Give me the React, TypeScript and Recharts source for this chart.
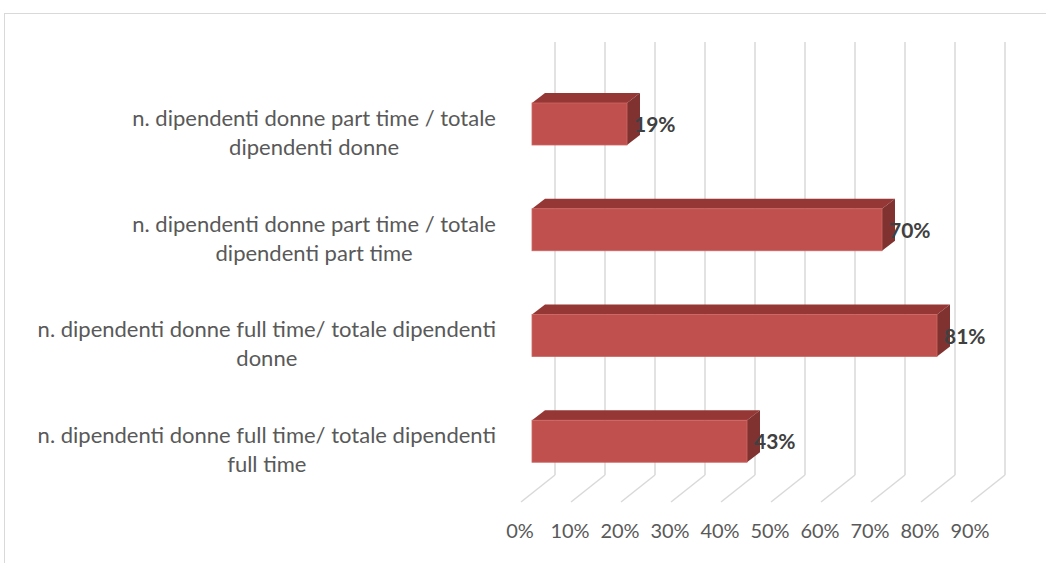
import React from "react";
import { BarChart, Bar, XAxis, YAxis, CartesianGrid, LabelList } from "recharts";

const categoryLines: string[][] = [
  ["n. dipendenti donne part time / totale", "dipendenti donne"],
  ["n. dipendenti donne part time / totale", "dipendenti part time"],
  ["n. dipendenti donne full time/ totale dipendenti", "donne"],
  ["n. dipendenti donne full time/ totale dipendenti", "full time"],
];
const shares = [0.19, 0.7, 0.81, 0.43];
const xTicks = [0, 0.1, 0.2, 0.3, 0.4, 0.5, 0.6, 0.7, 0.8, 0.9];

const data = categoryLines.map((lines, i) => ({ name: lines.join(" "), value: shares[i] }));

const FONT = "Lato, 'Open Sans', sans-serif";
const TEXT = "#595959";
const GRID = "#d9d9d9";
const DX = 13; // depth of the 3d boxes
const DY = 10;

let ctx: CanvasRenderingContext2D | null = null;
function measure(text: string, font: string) {
  if (!ctx) ctx = document.createElement("canvas").getContext("2d");
  if (!ctx) return text.length * 9;
  ctx.font = font;
  return ctx.measureText(text).width;
}

function Bar3D(props: any) {
  const { x, y, width, height } = props;
  const r = x + width;
  return (
    <g>
      <polygon
        points={`${x},${y} ${x + DX},${y - DY} ${r + DX},${y - DY} ${r},${y}`}
        fill="#953735"
      />
      <polygon
        points={`${r},${y} ${r + DX},${y - DY} ${r + DX},${y + height - DY} ${r},${y + height}`}
        fill="#7f3230"
      />
      <rect x={x} y={y} width={width} height={height} fill="#c0504d" stroke="#cd6663" strokeWidth={0.8} />
    </g>
  );
}

// back wall line + floor diagonal for each tick
function FloorLine(props: any) {
  const x = props.x1;
  if (props.index >= xTicks.length) return <g key={`floor-${props.index}`} />;
  return (
    <g key={`floor-${props.index}-${x}`}>
      <line x1={x + 23} y1={42} x2={x + 23} y2={475} stroke={GRID} strokeWidth={1.5} />
      <line x1={x + 23} y1={475} x2={x - 11} y2={502} stroke={GRID} strokeWidth={1.5} />
    </g>
  );
}

function XTick(props: any) {
  const { x, payload } = props;
  return (
    <text x={x - 12} y={538} textAnchor="middle" fontFamily={FONT} fontSize={20} fill={TEXT}>
      {`${Math.round(payload.value * 100)}%`}
    </text>
  );
}

function YTick(props: any) {
  const { y, index } = props;
  const lines = categoryLines[index] ?? [String(props.payload.value)];
  const font = `22px ${FONT}`;
  const widest = Math.max(...lines.map((l) => measure(l, font)));
  const cx = 496 - widest / 2;
  return (
    <text textAnchor="middle" fontFamily={FONT} fontSize={22} fill={TEXT}>
      {lines.map((l, i) => (
        <tspan key={i} x={cx} y={y + 2 + i * 29}>
          {l}
        </tspan>
      ))}
    </text>
  );
}

function ValueLabel(props: any) {
  const { x, y, width, height, value } = props;
  return (
    <text
      x={x + width + 7}
      y={y + height / 2 + 8}
      fontFamily={FONT}
      fontSize={21}
      fontWeight="bold"
      fill="#404040"
    >
      {`${Math.round(value * 100)}%`}
    </text>
  );
}

export default function App() {
  return (
    <div style={{ position: "absolute", left: 0, top: 0, width: 1046, height: 563, overflow: "hidden", background: "#fff" }}>
      <div
        style={{
          position: "absolute",
          left: 4,
          top: 13,
          width: 1200,
          height: 800,
          border: `1px solid ${GRID}`,
        }}
      />
      <div style={{ position: "absolute", left: 0, top: 0 }}>
        <BarChart
          width={1046}
          height={563}
          data={data}
          layout="vertical"
          margin={{ top: 71, right: 14, bottom: 9, left: 0 }}
          barSize={42}
        >
          <CartesianGrid horizontal={false} vertical={FloorLine} />
          <XAxis
            type="number"
            domain={[0, 1]}
            ticks={xTicks}
            axisLine={false}
            tickLine={false}
            height={60}
            tick={<XTick />}
            interval={0}
          />
          <YAxis
            type="category"
            dataKey="name"
            width={532}
            axisLine={false}
            tickLine={false}
            tick={<YTick />}
            interval={0}
          />
          <Bar dataKey="value" shape={<Bar3D />} isAnimationActive={false}>
            <LabelList dataKey="value" content={<ValueLabel />} />
          </Bar>
        </BarChart>
      </div>
    </div>
  );
}
